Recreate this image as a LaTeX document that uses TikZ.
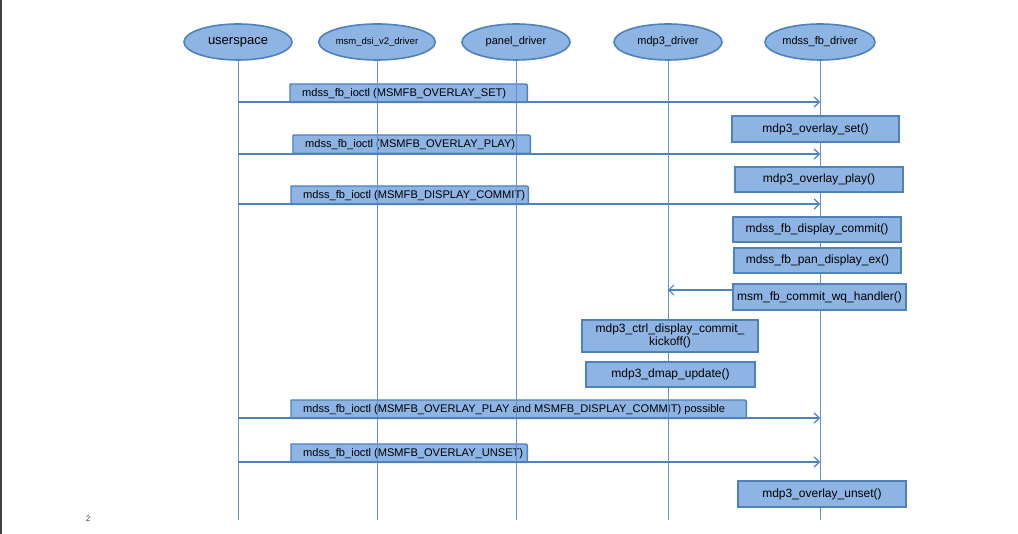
\documentclass[tikz,border=0pt]{standalone}
\usepackage{fontspec}
\setmainfont{Liberation Sans}
\usetikzlibrary{shapes.geometric,arrows.meta}
\definecolor{fillblue}{HTML}{8EB4E3}
\definecolor{edgeblue}{HTML}{4F81BD}
\definecolor{lineblue}{HTML}{6390CC}
\definecolor{pageedge}{HTML}{404040}

\begin{document}
\begin{tikzpicture}[x=1pt,y=-1pt,
  actor/.style={ellipse,draw=edgeblue,line width=1.6pt,fill=fillblue,
    minimum width=108pt,minimum height=36pt,inner sep=0pt},
  life/.style={draw=lineblue,line width=0.9pt},
  msg/.style={draw=edgeblue,line width=1.1pt,-{Straight Barb[length=5pt,width=10pt]}},
  call/.style={rectangle,draw=edgeblue,line width=1.4pt,fill=fillblue,inner sep=0pt,
    font=\fontsize{12}{13.5}\selectfont,align=center},
  tabframe/.style={rectangle,inner sep=0pt,anchor=north west},
  tabtxt/.style={inner sep=0pt,anchor=west,font=\fontsize{11.1}{12}\selectfont},
  tab/.style={draw=edgeblue,line width=1.4pt,fill=fillblue,line join=round}
]
\fill[white] (0,0) rectangle (1018,534);
\useasboundingbox (0,0) rectangle (1018,534);
\fill[pageedge] (0,0) rectangle (2,534);

% participants
\node[actor,font=\fontsize{13}{14}\selectfont] (u) at (238,42) {userspace};
\node[actor,font=\fontsize{9.5}{11}\selectfont] (dsi) at (377,42) {msm\_dsi\_v2\_driver};
\node[actor,font=\fontsize{11}{12}\selectfont] (pnl) at (516,42) {panel\_driver};
\node[actor,font=\fontsize{11}{12}\selectfont] (mdp) at (668,42) {mdp3\_driver};
\node[actor,font=\fontsize{11}{12}\selectfont,minimum width=110pt] (fb) at (820,42) {mdss\_fb\_driver};

% lifeline ends
\coordinate (uE) at (238,520);
\coordinate (dsiE) at (377,520);
\coordinate (pnlE) at (516,520);
\coordinate (mdpE) at (668,520);
\coordinate (fbE) at (820,520);

% message label tabs (rounded top-right corner)
\newcommand{\msgtab}[6]{%
  \node[tabframe,minimum width=#4pt,minimum height=#5pt] (#1) at (#2,#3) {};
  \draw[tab] (#1.south west) -- (#1.north west) -- ([xshift=-4pt]#1.north east)
    .. controls (#1.north east) .. ([yshift=-4pt]#1.north east) -- (#1.south east) -- cycle;
  \node[tabtxt] (#1txt) at ([xshift=12pt,yshift=-0.5pt]#1.west) {#6};}

\msgtab{t1}{290}{84}{237}{18}{mdss\_fb\_ioctl (MSMFB\_OVERLAY\_SET)}
\msgtab{t2}{293}{135}{237}{18}{mdss\_fb\_ioctl (MSMFB\_OVERLAY\_PLAY)}
\msgtab{t3}{291}{186}{237}{18}{mdss\_fb\_ioctl (MSMFB\_DISPLAY\_COMMIT)}
\msgtab{t4}{291}{400}{455}{18}{mdss\_fb\_ioctl (MSMFB\_OVERLAY\_PLAY and MSMFB\_DISPLAY\_COMMIT) possible}
\msgtab{t5}{291}{444}{236}{18}{mdss\_fb\_ioctl (MSMFB\_OVERLAY\_UNSET)}

% lifelines
\draw[life] (u.south) -- (uE);
\draw[life] (dsi.south) -- (dsiE);
\draw[life] (pnl.south) -- (pnlE);
\draw[life] (mdp.south) -- (mdpE);
\draw[life] (fb.south) -- (fbE);

% calls from userspace to mdss_fb_driver
\foreach \k/\yy in {1/102,2/154,3/204,4/418,5/462}{
  \coordinate (us\k) at (238,\yy);
  \coordinate (fb\k) at (820,\yy);
  \draw[msg] (us\k) -- (fb\k);
}

% function boxes
\node[call,minimum width=167pt,minimum height=26pt] (set) at (815.5,129) {mdp3\_overlay\_set()};
\node[call,minimum width=168pt,minimum height=25pt] (play) at (819,179.5) {mdp3\_overlay\_play()};
\node[call,minimum width=168pt,minimum height=25pt] (commit) at (817,229.5) {mdss\_fb\_display\_commit()};
\node[call,minimum width=167pt,minimum height=25pt] (pan) at (817.5,260.5) {mdss\_fb\_pan\_display\_ex()};
\node[call,minimum width=173pt,minimum height=26pt] (wq) at (819.5,297) {msm\_fb\_commit\_wq\_handler()};
\node[call,minimum width=176pt,minimum height=32pt,font=\fontsize{12}{13}\selectfont] (kick) at (670,336)
  {mdp3\_ctrl\_display\_commit\_\\kickoff()};
\node[call,minimum width=169pt,minimum height=25pt] (dmap) at (670.5,374.5) {mdp3\_dmap\_update()};
\node[call,minimum width=168pt,minimum height=26pt] (unset) at (822,494) {mdp3\_overlay\_unset()};

% work queue handler back to mdp3_driver
\coordinate (mdpq) at (668,290);
\draw[msg] ([yshift=7pt]wq.west) -- (mdpq);

% page number
\node[font=\fontsize{8}{9}\selectfont,text=pageedge,inner sep=0pt] (pg) at (88,519) {2};
\end{tikzpicture}
\end{document}
